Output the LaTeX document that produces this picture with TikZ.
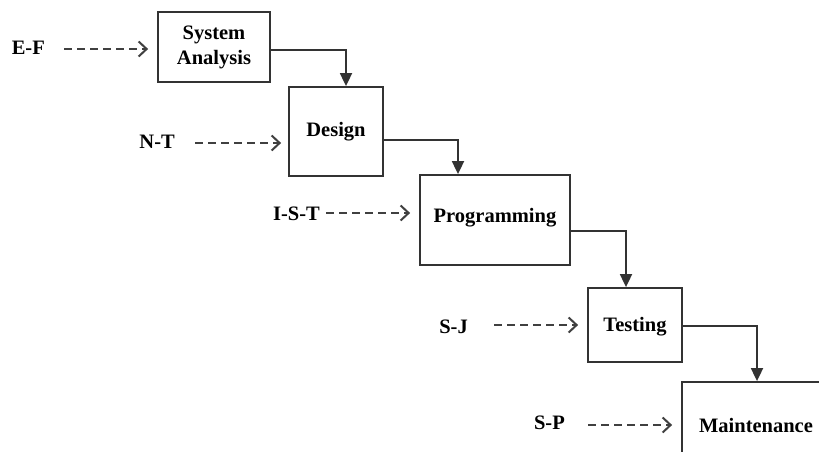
\documentclass[tikz,border=0pt]{standalone}
\usepackage{fontspec}
\setmainfont{Liberation Serif}
\usetikzlibrary{arrows.meta}
\begin{document}
\begin{tikzpicture}[x=1pt,y=-1pt,
  box/.style={draw=black!80, line width=1.8pt, rectangle, inner sep=0pt, font=\fontsize{20.5}{25}\selectfont\bfseries, align=center},
  lbl/.style={inner sep=0pt, font=\fontsize{20.5}{25}\selectfont\bfseries},
  flow/.style={draw=black!80, line width=1.8pt, -{Triangle[length=13pt,width=12pt]}},
  dsh/.style={draw=black!75, line width=2pt, dash pattern=on 8pt off 5pt, -{Straight Barb[length=8pt,width=15pt,line width=2pt]}}]
\useasboundingbox (0,0) rectangle (819,452);
\clip (0,0) rectangle (819,452);
\fill[white] (0,0) rectangle (819,452);
% boxes
\node[box, minimum width=112pt, minimum height=70pt] (sa) at (214,47) {System\\[0pt]Analysis};
\node[box, minimum width=94pt, minimum height=89pt] (dsg) at (336,131.5) {Design};
\node[box, minimum width=150pt, minimum height=90pt, text depth=10pt] (prg) at (495,220) {Programming};
\node[box, minimum width=94pt, minimum height=74pt, text height=17pt] (tst) at (635,325) {Testing};
\node[box, minimum width=200pt, minimum height=100pt,
  label={[lbl, xshift=-26pt, yshift=7pt]center:Maintenance}] (mnt) at (782,432) {};
% labels
\node[lbl, anchor=east] (ef) at (45,48) {E-F};
\node[lbl, anchor=east] (nt) at (175,142) {N-T};
\node[lbl, anchor=east] (ist) at (320,214) {I-S-T};
\node[lbl, anchor=east] (sj) at (468,327) {S-J};
\node[lbl, anchor=east] (sp) at (565,423) {S-P};
% flow
\draw[flow] ([yshift=-3pt]sa.east) -| ([xshift=10pt]dsg.north);
\draw[flow] ([yshift=-8.5pt]dsg.east) -| ([xshift=-37pt]prg.north);
\draw[flow] ([yshift=-11pt]prg.east) -| ([xshift=-9pt]tst.north);
\draw[flow] ([yshift=-1pt]tst.east) -| ([xshift=-25pt]mnt.north);
% dashed inputs
\draw[dsh, shorten <=19pt, shorten >=9pt] ([yshift=-1pt]ef.east) -- ([yshift=-1pt]ef.east -| sa.west);
\draw[dsh, shorten <=20pt, shorten >=7pt] ([yshift=-1pt]nt.east) -- ([yshift=-1pt]nt.east -| dsg.west);
\draw[dsh, shorten <=6pt, shorten >=9pt] ([yshift=1pt]ist.east) -- ([yshift=1pt]ist.east -| prg.west);
\draw[dsh, shorten <=26pt, shorten >=9pt] ([yshift=2pt]sj.east) -- ([yshift=2pt]sj.east -| tst.west);
\draw[dsh, shorten <=23pt, shorten >=9pt] ([yshift=-2pt]sp.east) -- ([yshift=-2pt]sp.east -| mnt.west);
\end{tikzpicture}
\end{document}
